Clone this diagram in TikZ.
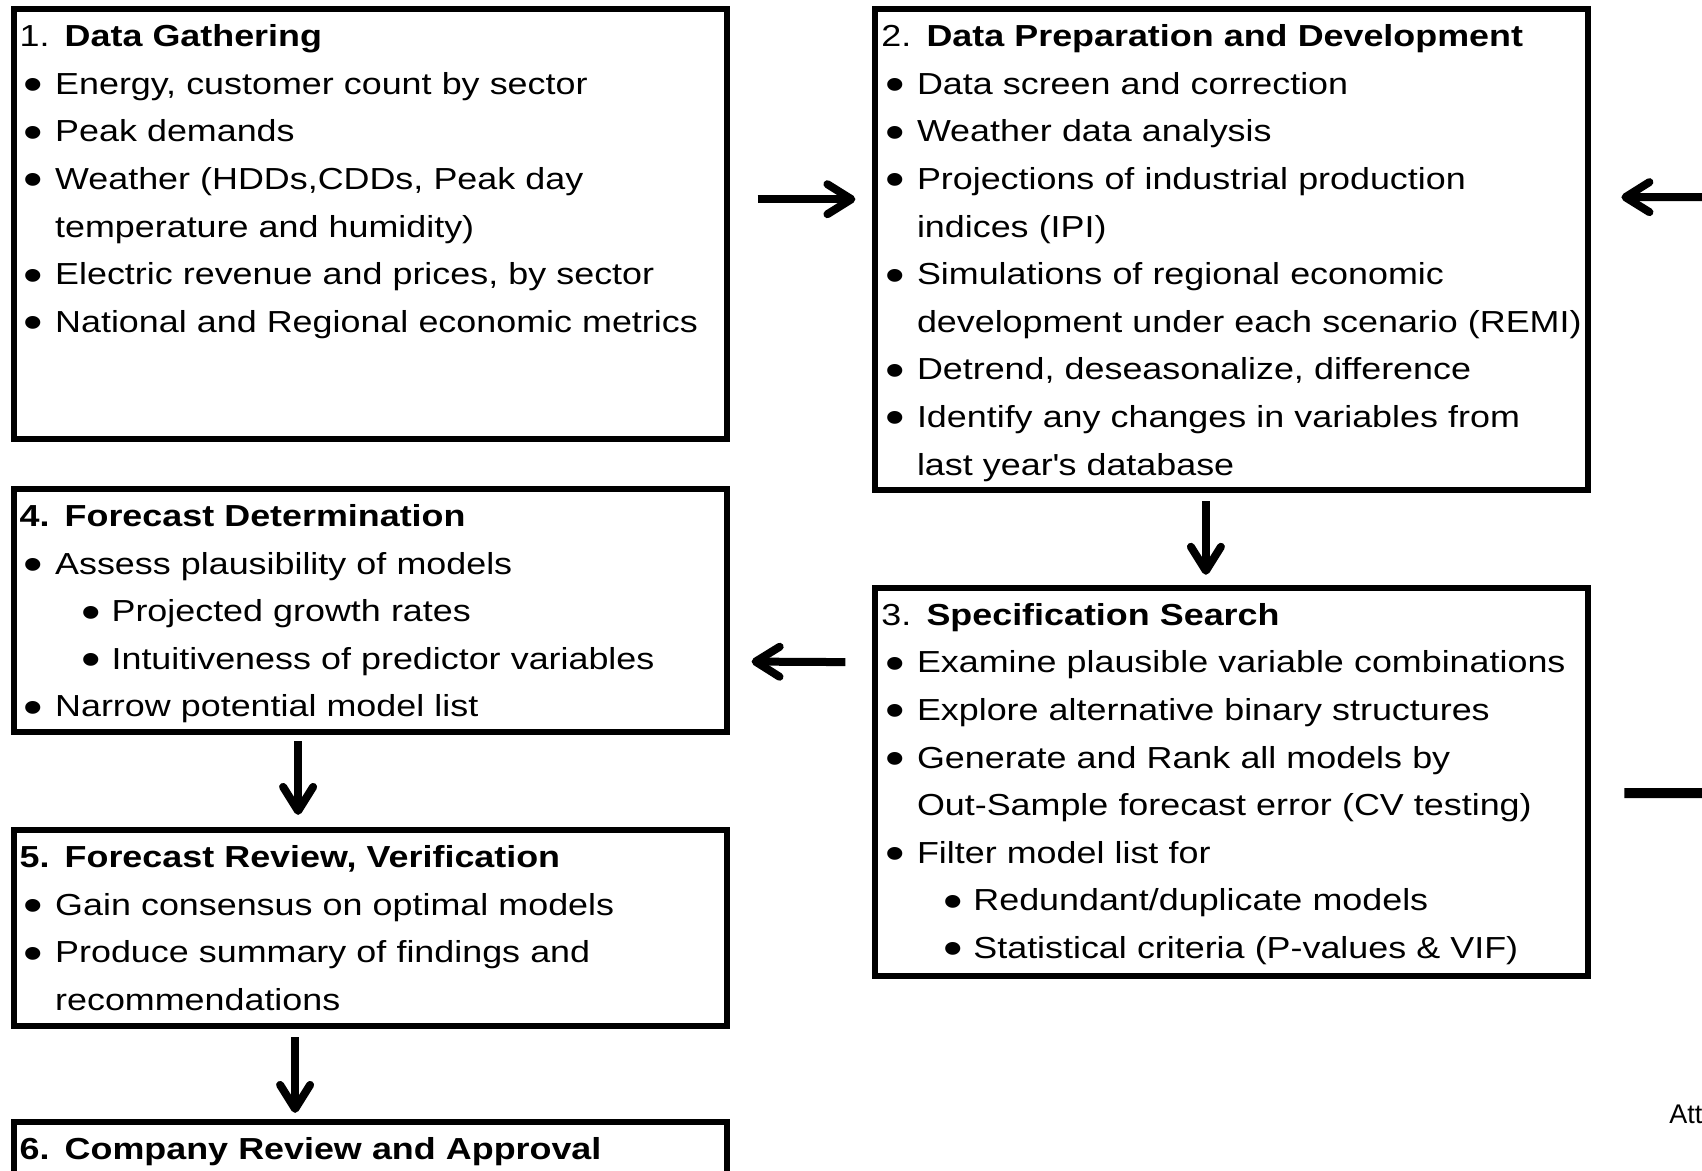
\documentclass[tikz,border=0pt]{standalone}
\usepackage{graphicx}
\usepackage{fontspec}
\setmainfont{Liberation Sans}[FakeStretch=1.18]
\newfontfamily\plainfont{Liberation Sans}
\usetikzlibrary{arrows.meta}

\tikzstyle{stage} = [draw, line width=3pt, anchor=north west, outer sep=0pt, inner xsep=3pt, inner ysep=0pt, text width=350.5pt, align=left, text height=18.75pt, font=\fontsize{15.2pt}{23.8pt}\selectfont]
\tikzstyle{flow} = [line width=4pt, -{Straight Barb[length=12pt, width=15pt, round]}]
\tikzstyle{flowline} = [line width=5pt]

\newcommand{\blob}{\raisebox{-3.2pt}{\scalebox{1.55}{\textbullet}}}
\newcommand{\bul}{\makebox[17.8pt][l]{\hspace{2pt}\blob}}
\newcommand{\sbul}{\hspace*{29.5pt}\makebox[16.5pt][l]{\hspace{1.5pt}\blob}}
\newcommand{\cont}{\hspace*{17.8pt}}

\begin{document}
\begin{tikzpicture}[x=0.5pt, y=-0.5pt]
\clip (0,0) rectangle (1702,1171);

\node[stage, text depth=196.2pt] (gather) at (13.6,9.2) {
	1. \textbf{Data Gathering}\\
	\bul Energy, customer count by sector\\
	\bul Peak demands\\
	\bul Weather (HDDs,CDDs, Peak day\\
	\cont temperature and humidity)\\
	\bul Electric revenue and prices, by sector\\
	\bul National and Regional economic metrics
};
\node[stage, text depth=221.7pt] (prep) at (875.4,9.2) {
	2. \textbf{Data Preparation and Development}\\
	\bul Data screen and correction\\
	\bul Weather data analysis\\
	\bul Projections of industrial production\\
	\cont indices (IPI)\\
	\bul Simulations of regional economic\\
	\cont development under each scenario (REMI)\\
	\bul Detrend, deseasonalize, difference\\
	\bul Identify any changes in variables from\\
	\cont last year\textquotesingle s database
};
\node[stage, text depth=175.55pt] (search) at (875.4,587.8) {
	3. \textbf{Specification Search}\\
	\bul Examine plausible variable combinations\\
	\bul Explore alternative binary structures\\
	\bul Generate and Rank all models by\\
	\cont Out-Sample forecast error (CV testing)\\
	\bul Filter model list for\\
	\sbul Redundant/duplicate models\\
	\sbul Statistical criteria (P-values \& VIF)
};
\node[stage, text depth=102.85pt] (determ) at (13.6,489.0) {
	\textbf{4. Forecast Determination}\\
	\bul Assess plausibility of models\\
	\sbul Projected growth rates\\
	\sbul Intuitiveness of predictor variables\\
	\bul Narrow potential model list
};
\node[stage, text depth=79.45pt] (review) at (13.6,829.9) {
	\textbf{5. Forecast Review, Verification}\\
	\bul Gain consensus on optimal models\\
	\bul Produce summary of findings and\\
	\cont recommendations
};
\node[stage, text depth=60pt] (approval) at (13.6,1121.9) {
	\textbf{6. Company Review and Approval}
};
\node[anchor=base west, inner sep=0pt, font=\plainfont\fontsize{13.5pt}{16pt}\selectfont] (att) at (1669,1123) {Att};

% loop coming back from the right
\coordinate (loopin) at (1710,197);
\coordinate (loopout) at (1710,793);

\draw[flow] ([shift={(31,190)}]gather.north east) -- ([shift={(-20,190)}]prep.north west);
\draw[flow] ([shift={(-26,11)}]prep.south) -- ([shift={(-26,-13)}]search.north);
\draw[flow] ([shift={(-30,-120)}]search.west) -- ([shift={(25,51)}]determ.east);
\draw[flow] ([shift={(-72,9)}]determ.south) -- ([shift={(-72,-15)}]review.north);
\draw[flow] ([shift={(-75,11)}]review.south) -- ([shift={(-75,-9)}]approval.north);
\draw[flow] (loopin) -- ([shift={(33,188)}]prep.north east);
\draw[flowline] ([shift={(36,11)}]search.east) -- (loopout);

\end{tikzpicture}
\end{document}
